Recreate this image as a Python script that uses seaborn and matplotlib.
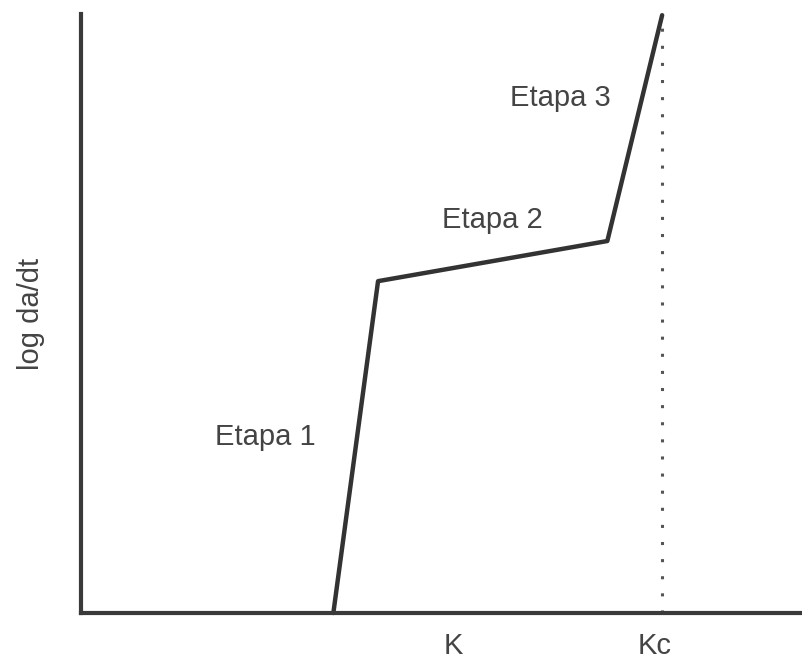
import matplotlib
matplotlib.use("Agg")
import matplotlib.pyplot as plt
import seaborn as sns
import pandas as pd

# Data (arbitrary units)
curve_x = [3.50, 4.12, 7.30, 8.06]
curve_y = [0.00, 5.54, 6.21, 9.98]
kc_x = 8.06
tick_pos = [5.16, 7.95]
tick_labels = ["K", "Kc"]
stage_labels = ["Etapa 1", "Etapa 2", "Etapa 3"]
stage_x = [2.55, 5.70, 6.65]
stage_y = [2.93, 6.56, 8.60]

sns.set_theme(style="white")
plt.rcParams['font.family'] = ['Liberation Sans', 'DejaVu Sans']

fig = plt.figure(figsize=(8.02, 6.67), dpi=100)
ax = fig.add_axes([81/802, 54/667, 721/802, 599/667])

df = pd.DataFrame({"x": curve_x, "y": curve_y})
sns.lineplot(data=df, x="x", y="y", sort=False, ax=ax, color="#333333",
             linewidth=3.2, clip_on=False)
ax.plot([kc_x, kc_x], [0, 10], linestyle=(0, (1, 4.6)), color="#555555",
        linewidth=2.2)

ax.set_xlim(0, 10)
ax.set_ylim(0, 10)

for s, x, y in zip(stage_labels, stage_x, stage_y):
    ax.text(x, y, s, fontsize=21, color="#444444", ha="center", va="center")

ax.set_xticks(tick_pos)
ax.set_xticklabels(tick_labels, fontsize=21, color="#444444")
ax.set_yticks([])
ax.tick_params(axis="x", length=0, pad=14)
ax.set_xlabel("")
ax.set_ylabel("log da/dt", fontsize=21, color="#444444", labelpad=26)

for side in ["top", "right"]:
    ax.spines[side].set_visible(False)
for side in ["left", "bottom"]:
    ax.spines[side].set_color("#3a3a3a")
    ax.spines[side].set_linewidth(3)

fig.savefig("out.png", dpi=100)
